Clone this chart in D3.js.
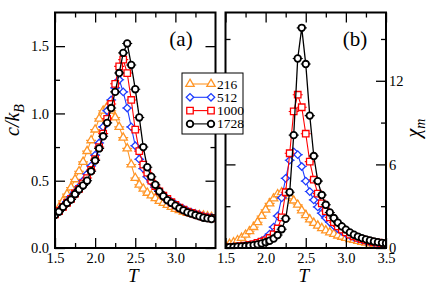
<!DOCTYPE html>
<html>
<head>
<meta charset="utf-8">
<script src="https://cdn.jsdelivr.net/npm/d3@7/dist/d3.min.js"></script>
<style>
  body { margin: 0; background: #fff; }
  text { font-family: "Liberation Serif", "Times New Roman", serif; fill: #000; }
</style>
</head>
<body>
<div id="chart"></div>
<script>
// temperatures (shared grid)
var temps = [1.50, 1.55, 1.60, 1.65, 1.70, 1.75, 1.80, 1.85, 1.90, 1.95,
             2.00, 2.05, 2.10, 2.15, 2.20, 2.25, 2.30, 2.35, 2.40, 2.45,
             2.50, 2.55, 2.60, 2.65, 2.70, 2.75, 2.80, 2.85, 2.90, 2.95,
             3.00, 3.05, 3.10, 3.15, 3.20, 3.25, 3.30, 3.35, 3.40, 3.45, 3.50];

var sizes = ["216", "512", "1000", "1728"];

// panel (a): specific heat c/kB (up to T = 3.45)
var heat216  = [0.265, 0.30, 0.35, 0.40, 0.45, 0.51, 0.57, 0.64, 0.72, 0.80,
                0.88, 0.96, 1.02, 1.05, 1.02, 0.97, 0.90, 0.82, 0.74, 0.62,
                0.52, 0.47, 0.44, 0.41, 0.39, 0.37, 0.35, 0.335, 0.32, 0.305,
                0.29, 0.28, 0.27, 0.26, 0.255, 0.25, 0.245, 0.24, 0.235, 0.23];
var heat512  = [0.255, 0.28, 0.31, 0.345, 0.38, 0.415, 0.455, 0.50, 0.55, 0.61,
                0.69, 0.78, 0.90, 1.02, 1.10, 1.19, 1.25, 1.16, 1.04, 0.90,
                0.76, 0.66, 0.59, 0.53, 0.49, 0.45, 0.42, 0.39, 0.365, 0.345,
                0.325, 0.305, 0.29, 0.275, 0.265, 0.255, 0.245, 0.235, 0.23, 0.225];
var heat1000 = [0.25, 0.275, 0.305, 0.335, 0.365, 0.405, 0.44, 0.48, 0.52, 0.58,
                0.66, 0.75, 0.85, 0.96, 1.07, 1.22, 1.35, 1.40, 1.30, 1.10,
                0.88, 0.72, 0.62, 0.56, 0.50, 0.46, 0.42, 0.39, 0.365, 0.34,
                0.32, 0.30, 0.285, 0.27, 0.26, 0.25, 0.24, 0.23, 0.225, 0.22];
var heat1728 = [0.245, 0.27, 0.305, 0.335, 0.36, 0.40, 0.435, 0.465, 0.50, 0.57,
                0.65, 0.74, 0.83, 0.93, 1.04, 1.16, 1.30, 1.45, 1.52, 1.36,
                1.18, 0.97, 0.75, 0.60, 0.53, 0.47, 0.42, 0.385, 0.355, 0.335,
                0.315, 0.295, 0.28, 0.265, 0.255, 0.245, 0.235, 0.225, 0.22, 0.215];

// panel (b): susceptibility chi_m
var chi216  = [0.14, 0.29, 0.40, 0.55, 0.72, 0.95, 1.20, 1.50, 1.85, 2.30,
               2.75, 3.20, 3.55, 3.85, 4.00, 3.95, 3.70, 3.40, 3.10, 2.70,
               2.35, 2.05, 1.80, 1.60, 1.42, 1.26, 1.12, 1.00, 0.89, 0.80,
               0.72, 0.64, 0.57, 0.50, 0.44, 0.38, 0.33, 0.28, 0.24, 0.20, 0.17];
var chi512  = [0.04, 0.05, 0.07, 0.09, 0.12, 0.15, 0.20, 0.27, 0.36, 0.50,
               0.70, 1.00, 1.50, 2.30, 3.60, 5.00, 6.30, 6.90, 6.70, 5.85,
               4.80, 4.05, 3.45, 2.95, 2.50, 2.15, 1.85, 1.60, 1.38, 1.20,
               1.04, 0.90, 0.78, 0.68, 0.60, 0.52, 0.45, 0.39, 0.34, 0.29, 0.25];
var chi1000 = [0.05, 0.06, 0.08, 0.10, 0.13, 0.17, 0.22, 0.28, 0.36, 0.46,
               0.55, 0.72, 0.98, 1.40, 2.20, 4.00, 6.80, 9.80, 11.0, 10.1,
               8.20, 6.20, 4.90, 3.90, 3.20, 2.65, 2.20, 1.85, 1.55, 1.32,
               1.12, 0.96, 0.83, 0.72, 0.63, 0.55, 0.48, 0.43, 0.38, 0.33, 0.28];
var chi1728 = [0.05, 0.06, 0.07, 0.09, 0.11, 0.14, 0.17, 0.21, 0.26, 0.33,
               0.41, 0.52, 0.68, 0.93, 1.35, 2.10, 4.00, 8.10, 13.6, 15.8,
               13.2, 9.50, 6.60, 4.80, 3.80, 3.10, 2.55, 2.15, 1.82, 1.55,
               1.32, 1.12, 0.95, 0.82, 0.71, 0.62, 0.54, 0.47, 0.42, 0.37, 0.34];

var colors = ["#ff9526", "#1f3dff", "#ff0000", "#000000"];
var shapes = ["triangle", "diamond", "square", "circle"];

var width = 436, height = 293;
var plotTop = 12.5, plotBottom = 248;
var serif = "'Liberation Serif', 'Times New Roman', serif";

var svg = d3.select("#chart").append("svg")
    .attr("width", width)
    .attr("height", height);

function markerPath(shape) {
    switch (shape) {
        case "triangle": return d3.symbol().type(d3.symbolTriangle).size(30)();
        case "diamond":  return d3.symbol().type(d3.symbolSquare).size(28)();
        case "square":   return d3.symbol().type(d3.symbolSquare).size(42)();
        default:         return d3.symbol().type(d3.symbolCircle).size(34)();
    }
}

function drawPanel(cfg) {
    var x = d3.scaleLinear().domain(cfg.xDomain).range(cfg.xRange);
    var y = d3.scaleLinear().domain(cfg.yDomain).range([plotBottom, plotTop]);
    var g = svg.append("g");

    // clip for the curves
    g.append("clipPath").attr("id", cfg.id + "-clip")
        .append("rect")
        .attr("x", cfg.xRange[0]).attr("y", plotTop)
        .attr("width", cfg.xRange[1] - cfg.xRange[0]).attr("height", plotBottom - plotTop);

    var plot = g.append("g").attr("clip-path", "url(#" + cfg.id + "-clip)");

    cfg.series.forEach(function (vals, k) {
        var pts = vals.map(function (v, i) { return [temps[i], v]; });
        var col = colors[k];

        plot.append("path")
            .datum(pts)
            .attr("fill", "none")
            .attr("stroke", col)
            .attr("stroke-width", k === 3 ? 1.3 : 1.1)
            .attr("d", d3.line().x(d => x(d[0])).y(d => y(d[1])));

        // error bar caps
        plot.append("g").selectAll("line")
            .data(pts)
            .enter()
            .append("line")
            .attr("x1", d => x(d[0]) - 5)
            .attr("x2", d => x(d[0]) + 5)
            .attr("y1", d => y(d[1]))
            .attr("y2", d => y(d[1]))
            .attr("stroke", col)
            .attr("stroke-width", 1.1);

        plot.append("g").selectAll("path")
            .data(pts)
            .enter()
            .append("path")
            .attr("d", markerPath(shapes[k]))
            .attr("transform", d => "translate(" + x(d[0]) + "," + y(d[1]) + ")" +
                  (shapes[k] === "diamond" ? " rotate(45)" : ""))
            .attr("fill", "#fff")
            .attr("stroke", col)
            .attr("stroke-width", k === 3 ? 1.8 : 1.3);
    });

    // axes: major and minor ticks on all four sides, pointing inward
    var fmt = cfg.yFormat;
    g.append("g")
        .attr("transform", "translate(0," + plotBottom + ")")
        .call(d3.axisBottom(x).tickValues(cfg.xTicks).tickSize(-10).tickPadding(5)
              .tickFormat(d3.format(".1f")));
    g.append("g")
        .attr("transform", "translate(0," + plotBottom + ")")
        .call(d3.axisBottom(x).tickValues(cfg.xMinor).tickSize(-5).tickFormat(""));
    g.append("g")
        .attr("transform", "translate(0," + plotTop + ")")
        .call(d3.axisTop(x).tickValues(cfg.xTicks).tickSize(-10).tickFormat(""));
    g.append("g")
        .attr("transform", "translate(0," + plotTop + ")")
        .call(d3.axisTop(x).tickValues(cfg.xMinor).tickSize(-5).tickFormat(""));

    g.append("g")
        .attr("transform", "translate(" + cfg.xRange[0] + ",0)")
        .call(d3.axisLeft(y).tickValues(cfg.yTicks).tickSize(-10).tickPadding(6)
              .tickFormat(cfg.yLabelSide === "left" ? fmt : ""));
    g.append("g")
        .attr("transform", "translate(" + cfg.xRange[0] + ",0)")
        .call(d3.axisLeft(y).tickValues(cfg.yMinor).tickSize(-5).tickFormat(""));
    g.append("g")
        .attr("transform", "translate(" + cfg.xRange[1] + ",0)")
        .call(d3.axisRight(y).tickValues(cfg.yTicks).tickSize(-10).tickPadding(3)
              .tickFormat(cfg.yLabelSide === "right" ? fmt : ""));
    g.append("g")
        .attr("transform", "translate(" + cfg.xRange[1] + ",0)")
        .call(d3.axisRight(y).tickValues(cfg.yMinor).tickSize(-5).tickFormat(""));

    g.selectAll(".domain").remove();
    g.selectAll(".tick line").attr("stroke", "#000").attr("stroke-width", 1.3);
    g.selectAll(".tick text")
        .style("font-family", serif)
        .style("font-size", "14.5px");

    // frame
    g.append("rect")
        .attr("x", cfg.xRange[0]).attr("y", plotTop)
        .attr("width", cfg.xRange[1] - cfg.xRange[0]).attr("height", plotBottom - plotTop)
        .attr("fill", "none").attr("stroke", "#000").attr("stroke-width", 2);

    // panel tag
    g.append("text")
        .attr("x", cfg.tagX).attr("y", 46)
        .attr("text-anchor", "middle")
        .attr("font-size", 21)
        .text(cfg.tag);

    // x title
    g.append("text")
        .attr("x", (cfg.xRange[0] + cfg.xRange[1]) / 2 - 2)
        .attr("y", 282)
        .attr("text-anchor", "middle")
        .attr("font-size", 19)
        .attr("font-style", "italic")
        .text("T");

    return { x: x, y: y };
}

drawPanel({
    id: "pa",
    xDomain: [1.5, 3.5], xRange: [55, 215.5],
    yDomain: [0, 1.75],
    xTicks: [1.5, 2.0, 2.5, 3.0], xMinor: [1.75, 2.25, 2.75, 3.25],
    yTicks: [0, 0.5, 1.0, 1.5], yMinor: [0.25, 0.75, 1.25],
    yFormat: d3.format(".1f"), yLabelSide: "left",
    series: [heat216, heat512, heat1000, heat1728],
    tag: "(a)", tagX: 181
});

drawPanel({
    id: "pb",
    xDomain: [1.5, 3.5], xRange: [225.5, 386],
    yDomain: [0, 16.9],
    xTicks: [1.5, 2.0, 2.5, 3.0, 3.5], xMinor: [1.75, 2.25, 2.75, 3.25],
    yTicks: [0, 6, 12], yMinor: [3, 9, 15],
    yFormat: d3.format("d"), yLabelSide: "right",
    series: [chi216, chi512, chi1000, chi1728],
    tag: "(b)", tagX: 355
});

// y titles
var yTitleA = svg.append("text")
    .attr("transform", "translate(19,120) rotate(-90)")
    .attr("text-anchor", "middle")
    .attr("font-size", 20)
    .attr("font-style", "italic");
yTitleA.append("tspan").text("c/k");
yTitleA.append("tspan").attr("font-size", 14).attr("dy", 5).text("B");

var yTitleB = svg.append("text")
    .attr("transform", "translate(420,128) rotate(-90)")
    .attr("text-anchor", "middle")
    .attr("font-size", 20)
    .attr("font-style", "italic");
yTitleB.append("tspan").text("χ");
yTitleB.append("tspan").attr("font-size", 14).attr("dy", 5).text("m");

// legend
var legend = svg.append("g").attr("transform", "translate(182,73)");
legend.append("rect")
    .attr("width", 61).attr("height", 61)
    .attr("fill", "#fff").attr("stroke", "#000").attr("stroke-width", 1);

var rows = legend.selectAll(".row")
    .data(sizes)
    .enter()
    .append("g")
    .attr("class", "row")
    .attr("transform", (d, i) => "translate(0," + (11 + i * 13.3) + ")");

rows.append("line")
    .attr("x1", 8).attr("x2", 29)
    .attr("stroke", (d, i) => colors[i])
    .attr("stroke-width", 1.1);

[8, 29].forEach(function (mx) {
    rows.append("path")
        .attr("d", (d, i) => markerPath(shapes[i]))
        .attr("transform", (d, i) => "translate(" + mx + ",0)" + (shapes[i] === "diamond" ? " rotate(45)" : ""))
        .attr("fill", "#fff")
        .attr("stroke", (d, i) => colors[i])
        .attr("stroke-width", (d, i) => i === 3 ? 1.8 : 1.3);
});

rows.append("text")
    .attr("x", 35).attr("y", 4.5)
    .attr("font-size", 13.5)
    .text(d => d);
</script>
</body>
</html>
